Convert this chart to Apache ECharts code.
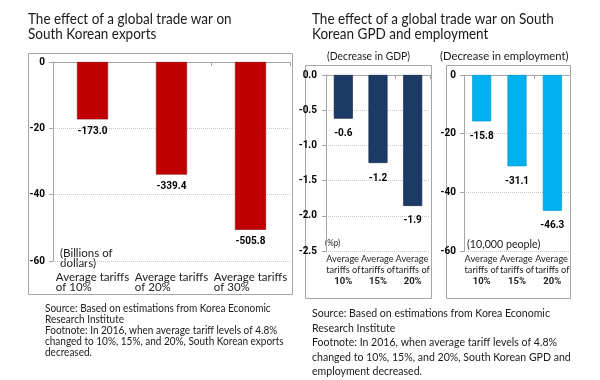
<!DOCTYPE html>
<html><head><meta charset="utf-8">
<script src="https://cdn.jsdelivr.net/npm/echarts@6/dist/echarts.min.js"></script>
<style>html,body{margin:0;padding:0;background:#fff}#c{width:600px;height:380px}</style>
</head><body><div id="c"></div>
<script>
// ---- data ----
const exportCategories = ['Average tariffs\nof 10%', 'Average tariffs\nof 20%', 'Average tariffs\nof 30%'];
const exportValues = [-17.3, -33.94, -50.58];
const exportLabels = ['-173.0', '-339.4', '-505.8'];
const exportTicks = [0, -20, -40, -60];

const gdpCategories = ['Average\ntariffs of\n10%', 'Average\ntariffs of\n15%', 'Average\ntariffs of\n20%'];
const gdpValues = [-0.62, -1.25, -1.86];
const gdpLabels = ['-0.6', '-1.2', '-1.9'];
const gdpTicks = [0.0, -0.5, -1.0, -1.5, -2.0, -2.5];

const empCategories = ['Average\ntariffs of\n10%', 'Average\ntariffs of\n15%', 'Average\ntariffs of\n20%'];
const empValues = [-15.8, -31.1, -46.3];
const empLabels = ['-15.8', '-31.1', '-46.3'];
const empTicks = [0, -20, -40, -60];

const NARROW = 'Roboto, sans-serif';
const TXT = 'Lato, "Open Sans", sans-serif';

const chart = echarts.init(document.getElementById('c'), null, {renderer: 'canvas'});

function catFormatter(boldLast) {
  return function (v) {
    const lines = v.split('\n');
    return lines.map((l, i) => (boldLast && i === lines.length - 1) ? '{b|' + l + '}' : '{a|' + l + '}').join('\n');
  };
}

function yAxisFor(grid, ticks, margin, decimals) {
  return {
    type: 'value', gridIndex: grid,
    min: Math.min(...ticks), max: Math.max(...ticks), interval: Math.abs(ticks[0] - ticks[1]),
    axisLine: {show: true, lineStyle: {color: '#a6a6a6'}},
    axisTick: {show: true, length: 4, lineStyle: {color: '#a6a6a6'}},
    axisLabel: {margin: margin, color: '#000', fontWeight: 'bold', fontSize: 10, fontFamily: NARROW,
      formatter: v => v.toFixed(decimals)},
    splitLine: {show: true, lineStyle: {color: '#c8c8c8', type: 'dotted'}}
  };
}

function xAxesFor(grid, cats, margin, fontSize, lh, boldLast) {
  return [
    {
      type: 'category', gridIndex: grid, data: cats, position: 'bottom',
      axisLine: {show: false, onZero: false}, axisTick: {show: false},
      axisLabel: {margin: margin, interval: 0, align: 'center', verticalAlign: 'top', lineHeight: lh,
        formatter: catFormatter(boldLast),
        rich: {
          a: {align: 'left', fontSize: fontSize, lineHeight: lh, color: '#222', fontFamily: TXT},
          b: {align: 'center', fontSize: 9.5, lineHeight: lh + 1, color: '#222', fontWeight: 'bold', fontFamily: NARROW}
        }}
    },
    {
      type: 'category', gridIndex: grid, data: cats, position: 'top',
      axisLine: {show: true, onZero: false, lineStyle: {color: '#a6a6a6'}},
      axisTick: {show: true, inside: true, length: 4, lineStyle: {color: '#a6a6a6'}},
      axisLabel: {show: false}
    }
  ];
}

function barSeries(idx, values, labels, color, border, width, dist) {
  return {
    type: 'bar', xAxisIndex: idx * 2, yAxisIndex: idx, data: values, barWidth: width,
    itemStyle: {color: color, borderColor: border, borderWidth: 0.6},
    label: {show: true, position: 'bottom', distance: dist, color: '#000', fontWeight: 'bold', fontSize: 10,
      fontFamily: NARROW, formatter: p => labels[p.dataIndex]},
    silent: true, animation: false
  };
}

function txt(x, y, text, size, lh, sx) {
  return {type: 'text', x: x, y: y, scaleX: sx, silent: true,
    style: {text: text, fontSize: size, lineHeight: lh, fill: '#1a1a1a', fontFamily: TXT, align: 'left', verticalAlign: 'top'}};
}

const frameStyle = {fill: 'none', stroke: '#a6a6a6', lineWidth: 1};

chart.setOption({
  backgroundColor: '#fff',
  animation: false,
  grid: [
    {left: 53, top: 62, width: 237, height: 199},
    {left: 326, top: 75, width: 104, height: 176},
    {left: 464, top: 75, width: 106, height: 176}
  ],
  xAxis: [
    ...xAxesFor(0, exportCategories, 11, 11.5, 10.5, false),
    ...xAxesFor(1, gdpCategories, 3, 9.2, 11, true),
    ...xAxesFor(2, empCategories, 3, 9.2, 11, true)
  ],
  yAxis: [
    yAxisFor(0, exportTicks, 8, 0),
    yAxisFor(1, gdpTicks, 9, 1),
    yAxisFor(2, empTicks, 8, 0)
  ],
  series: [
    barSeries(0, exportValues, exportLabels, '#c00000', '#8a0000', 31, 7),
    barSeries(1, gdpValues, gdpLabels, '#1b3a66', '#0f2440', 19, 10),
    barSeries(2, empValues, empLabels, '#00b0f0', '#0090c8', 19, 10)
  ],
  graphic: [
    {type: 'rect', shape: {x: 28.5, y: 53.5, width: 264, height: 241}, style: frameStyle, silent: true},
    {type: 'rect', shape: {x: 305.5, y: 65.5, width: 126, height: 233}, style: frameStyle, silent: true},
    {type: 'rect', shape: {x: 446.5, y: 65.5, width: 124, height: 233}, style: frameStyle, silent: true},
    txt(28, 12, 'The effect of a global trade war on\nSouth Korean exports', 15, 15, 0.9),
    txt(312, 12, 'The effect of a global trade war on South\nKorean GPD and employment', 15, 15, 0.9),
    txt(60, 248, '(Billions of\ndollars)', 11.5, 10.5, 1),
    txt(325, 238, '(%p)', 9, 10, 0.9),
    txt(467, 238, '(10,000 people)', 11, 12, 0.97),
    txt(327, 50, '(Decrease in GDP)', 11.5, 13, 0.9),
    txt(440, 50, '(Decrease in employment)', 11.5, 13, 0.98),
    txt(45, 303, 'Source: Based on estimations from Korea Economic\nResearch Institute\nFootnote: In 2016, when average tariff levels of 4.8%\nchanged to 10%, 15%, and 20%, South Korean exports\ndecreased.', 11, 11, 0.91),
    txt(312, 306, 'Source: Based on estimations from Korea Economic\nResearch Institute\nFootnote: In 2016, when average tariff levels of 4.8%\nchanged to 10%, 15%, and 20%, South Korean GPD and\nemployment decreased.', 12, 14.5, 0.88)
  ]
});
</script>
</body></html>
